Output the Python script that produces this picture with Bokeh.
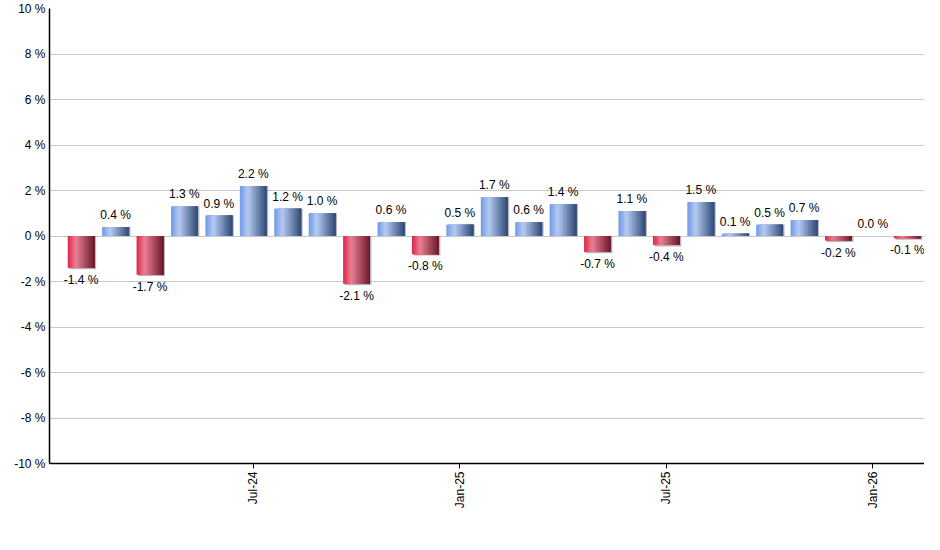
from math import pi

from bokeh.core.properties import value
from bokeh.embed import file_html
from bokeh.models import ColumnDataSource, FixedTicker, PrintfTickFormatter, Range1d
from bokeh.plotting import figure
from bokeh.resources import INLINE

# monthly change, Feb-24 .. Feb-26
months = ["Feb-24", "Mar-24", "Apr-24", "May-24", "Jun-24", "Jul-24", "Aug-24",
          "Sep-24", "Oct-24", "Nov-24", "Dec-24", "Jan-25", "Feb-25", "Mar-25",
          "Apr-25", "May-25", "Jun-25", "Jul-25", "Aug-25", "Sep-25", "Oct-25",
          "Nov-25", "Dec-25", "Jan-26", "Feb-26"]
values = [-1.4, 0.4, -1.7, 1.3, 0.9, 2.2, 1.2, 1.0, -2.1, 0.6, -0.8, 0.5, 1.7,
          0.6, 1.4, -0.7, 1.1, -0.4, 1.5, 0.1, 0.5, 0.7, -0.2, 0.0, -0.1]
tick_months = ["Jul-24", "Jan-25", "Jul-25", "Jan-26"]

FONT = "Liberation Sans"
BAR_W = 0.78
N_SLICES = 20

blue_stops = [(0.0, (112, 152, 232)), (0.3, (182, 204, 242)), (1.0, (48, 72, 118))]
red_stops = [(0.0, (222, 36, 72)), (0.3, (236, 128, 148)), (1.0, (104, 24, 44))]


def grad(stops, t):
    for (t0, c0), (t1, c1) in zip(stops, stops[1:]):
        if t <= t1:
            f = (t - t0) / (t1 - t0)
            return "#%02x%02x%02x" % tuple(int(a + (b - a) * f) for a, b in zip(c0, c1))
    return "#%02x%02x%02x" % stops[-1][1]


idx = list(range(len(values)))

p = figure(width=924, height=534, output_backend="svg", toolbar_location=None,
           x_range=Range1d(-0.92, 24.5), y_range=Range1d(-10, 10),
           min_border_left=49, min_border_right=0, min_border_top=8,
           min_border_bottom=71)
p.outline_line_color = None
p.xgrid.grid_line_color = None
p.ygrid.grid_line_color = "#c8c8c8"
p.ygrid.ticker = FixedTicker(ticks=list(range(-10, 11, 2)))

# shadow behind bars
shadow = ColumnDataSource(dict(
    x=[i + 0.045 for i in idx],
    top=[max(v, 0) for v in values],
    bottom=[min(v, 0) - (0.06 if v < 0 else 0) for v in values],
))
p.vbar(x="x", top="top", bottom="bottom", width=BAR_W, source=shadow,
       fill_color="#9a9a9a", line_color=None, fill_alpha=0.7)

# bars with horizontal gradient: stacked quads, each running to the bar's right edge
ql, qr, qt, qc = [], [], [], []
for i, v in zip(idx, values):
    stops = blue_stops if v >= 0 else red_stops
    for k in range(N_SLICES):
        t = (k + 0.5) / N_SLICES
        ql.append(i - BAR_W / 2 + k / N_SLICES * BAR_W)
        qr.append(i + BAR_W / 2)
        qt.append(v)
        qc.append(grad(stops, t))
p.quad(left=ql, right=qr, top=qt, bottom=0, fill_color=qc, line_color=None)

# value labels
lab = ColumnDataSource(dict(
    x=idx, y=values,
    text=["%.1f %%" % v for v in values],
    off=[12 if v < 0 else -12 for v in values],
))
p.text(x="x", y="y", text="text", y_offset="off", source=lab,
       text_align="center", text_baseline="middle", text_font_size="12px",
       text_color="#000000", text_font=value(FONT))

# axes
p.yaxis.ticker = FixedTicker(ticks=list(range(-10, 11, 2)))
p.yaxis.formatter = PrintfTickFormatter(format="%d %%")
p.yaxis.major_tick_out = 0
p.yaxis.major_tick_in = 0
p.yaxis.minor_tick_line_color = None
p.yaxis.major_label_standoff = 4
p.yaxis.axis_line_color = "#000000"
p.yaxis.axis_line_width = 1.5

tick_pos = [months.index(m) for m in tick_months]
p.xaxis.ticker = FixedTicker(ticks=tick_pos)
p.xaxis.major_label_overrides = {t: m for t, m in zip(tick_pos, tick_months)}
p.xaxis.major_label_orientation = pi / 2
p.xaxis.major_tick_out = 5
p.xaxis.major_tick_in = 0
p.xaxis.minor_tick_line_color = None
p.xaxis.major_label_standoff = 3
p.xaxis.axis_line_color = "#000000"
p.xaxis.axis_line_width = 1.5
p.xaxis.major_tick_line_color = "#000000"

for ax in (p.xaxis, p.yaxis):
    ax.major_label_text_font = FONT
    ax.major_label_text_font_size = "12px"
    ax.major_label_text_color = "#000000"

open("out.html", "w").write(file_html(p, INLINE))
